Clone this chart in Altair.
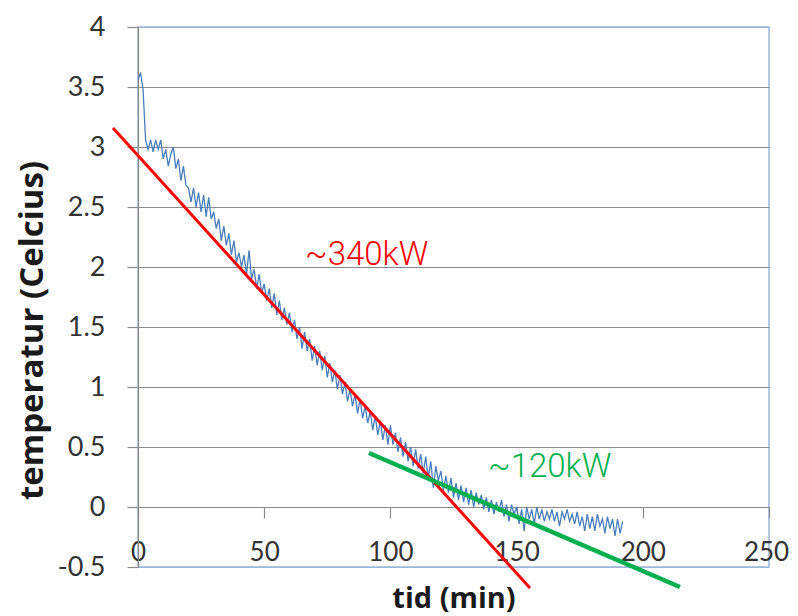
import altair as alt
import pandas as pd

# measured temperature (Celsius) every minute, t = 0 .. 192 min
temps = [
    3.56, 3.62, 3.48, 3.06, 2.98, 3.06, 2.96, 3.06, 2.98, 3.06,
    2.90, 2.98, 2.84, 2.94, 3.00, 2.82, 2.90, 2.72, 2.84, 2.68,
    2.66, 2.54, 2.66, 2.50, 2.62, 2.46, 2.60, 2.42, 2.58, 2.40,
    2.46, 2.32, 2.40, 2.22, 2.34, 2.18, 2.28, 2.10, 2.22, 2.04,
    2.12, 2.00, 2.10, 1.94, 2.14, 1.90, 1.98, 1.82, 1.94, 1.78,
    1.86, 1.72, 1.82, 1.66, 1.78, 1.60, 1.72, 1.56, 1.66, 1.52,
    1.62, 1.46, 1.56, 1.40, 1.50, 1.32, 1.46, 1.30, 1.40, 1.22,
    1.34, 1.18, 1.30, 1.14, 1.26, 1.08, 1.20, 1.04, 1.14, 0.98,
    1.10, 0.94, 1.04, 0.88, 0.98, 0.84, 0.94, 0.78, 0.90, 0.74,
    0.84, 0.70, 0.80, 0.64, 0.76, 0.60, 0.72, 0.56, 0.68, 0.52,
    0.68, 0.52, 0.62, 0.46, 0.58, 0.42, 0.54, 0.38, 0.50, 0.34,
    0.48, 0.32, 0.44, 0.28, 0.42, 0.24, 0.38, 0.16, 0.34, 0.22,
    0.30, 0.14, 0.26, 0.12, 0.24, 0.08, 0.20, 0.06, 0.18, 0.04,
    0.16, 0.02, 0.14, 0.00, 0.12, 0.02, 0.10, -0.02, 0.08, -0.04,
    0.06, -0.06, 0.04, -0.04, 0.06, -0.08, 0.02, -0.12, 0.02, -0.06,
    0.00, -0.14, -0.02, -0.20, 0.00, -0.10, -0.02, -0.14, 0.00, -0.10,
    -0.02, -0.12, -0.04, -0.10, -0.02, -0.12, -0.04, -0.16, -0.04, -0.10,
    -0.02, -0.12, -0.06, -0.14, -0.04, -0.16, -0.08, -0.20, -0.06, -0.18,
    -0.08, -0.20, -0.06, -0.16, -0.10, -0.22, -0.08, -0.18, -0.10, -0.24,
    -0.10, -0.22, -0.12,
]
times = list(range(len(temps)))

# hand-drawn trend lines (end points in data units)
red_x = [-9.9, 155.3]
red_y = [3.158, -0.675]
green_x = [91.5, 214.7]
green_y = [0.45, -0.667]

# annotations
ann_text = ["~340kW", "~120kW"]
ann_x = [66.2, 138.7]
ann_y = [2.02, 0.25]
ann_color = ["#FF0000", "#00B050"]

y_ticks = [-0.5, 0, 0.5, 1, 1.5, 2, 2.5, 3, 3.5, 4]
x_ticks = [0, 50, 100, 150, 200, 250]

df = pd.DataFrame({"t": times, "temp": temps})
red_df = pd.DataFrame({"t": red_x, "temp": red_y})
green_df = pd.DataFrame({"t": green_x, "temp": green_y})
ann_df = pd.DataFrame({"t": ann_x, "temp": ann_y, "txt": ann_text, "c": ann_color})

GRID = "#8a8a8a"
BORDER = "#9bb7da"
FONT = "Lato"
TFONT = "Open Sans"

x_scale = alt.Scale(domain=[0, 250], nice=False, zero=False)
y_scale = alt.Scale(domain=[-0.5, 4], nice=False, zero=False)

x_axis = alt.Axis(
    title="tid (min)", values=x_ticks, grid=False, offset=-60,
    domainColor=GRID, domainWidth=1.2, tickColor=GRID, tickSize=11, tickWidth=1.2,
    labelFont=FONT, labelFontSize=26, labelColor="#333333", labelPadding=21,
    labelExpr="toString(datum.value)", labelFlush=False,
    labelOffset=alt.condition("datum.value == 250", alt.value(-3), alt.value(0)),
    titleFont=TFONT, titleFontSize=29, titleFontWeight="bold", titleColor="#1a1a1a",
    titleY=91, titleBaseline="middle",
)
y_axis = alt.Axis(
    title="temperatur (Celcius)", values=y_ticks,
    gridColor=alt.condition("datum.value == 4 || datum.value == -0.5",
                            alt.value(BORDER), alt.value(GRID)),
    gridWidth=1.2,
    domainColor=GRID, domainWidth=1.2, tickColor=GRID, tickSize=11, tickWidth=1.2,
    labelFont=FONT, labelFontSize=27, labelColor="#333333", labelPadding=22,
    labelExpr="toString(datum.value)", labelFlush=False,
    titleFont=TFONT, titleFontSize=33, titleFontWeight="bold", titleColor="#1a1a1a",
    titleX=-106, titleY=303, titleBaseline="middle", titleAlign="center", titleAngle=-90,
)

data_line = alt.Chart(df).mark_line(color="#4a7ebb", strokeWidth=1.3).encode(
    x=alt.X("t:Q", scale=x_scale, axis=x_axis),
    y=alt.Y("temp:Q", scale=y_scale, axis=y_axis),
)
red_line = alt.Chart(red_df).mark_line(color="#FF0000", strokeWidth=3, clip=False).encode(
    x=alt.X("t:Q", scale=x_scale), y=alt.Y("temp:Q", scale=y_scale)
)
green_line = alt.Chart(green_df).mark_line(color="#00B050", strokeWidth=4.5, clip=False).encode(
    x=alt.X("t:Q", scale=x_scale), y=alt.Y("temp:Q", scale=y_scale)
)
labels = alt.Chart(ann_df).mark_text(
    font="Roboto", fontWeight=300, fontSize=33, align="left", baseline="alphabetic"
).encode(
    x=alt.X("t:Q", scale=x_scale), y=alt.Y("temp:Q", scale=y_scale),
    text="txt:N", color=alt.Color("c:N", scale=None),
)

chart = (
    alt.layer(data_line, red_line, green_line, labels)
    .properties(
        width=631, height=540,
        autosize=alt.AutoSizeParams(type="none"),
        padding={"left": 130, "top": 19, "right": 21, "bottom": 48},
    )
    .configure_view(stroke=BORDER, strokeWidth=1.5)
)

chart.save("out.html", embed_options={"renderer": "svg", "actions": False})
